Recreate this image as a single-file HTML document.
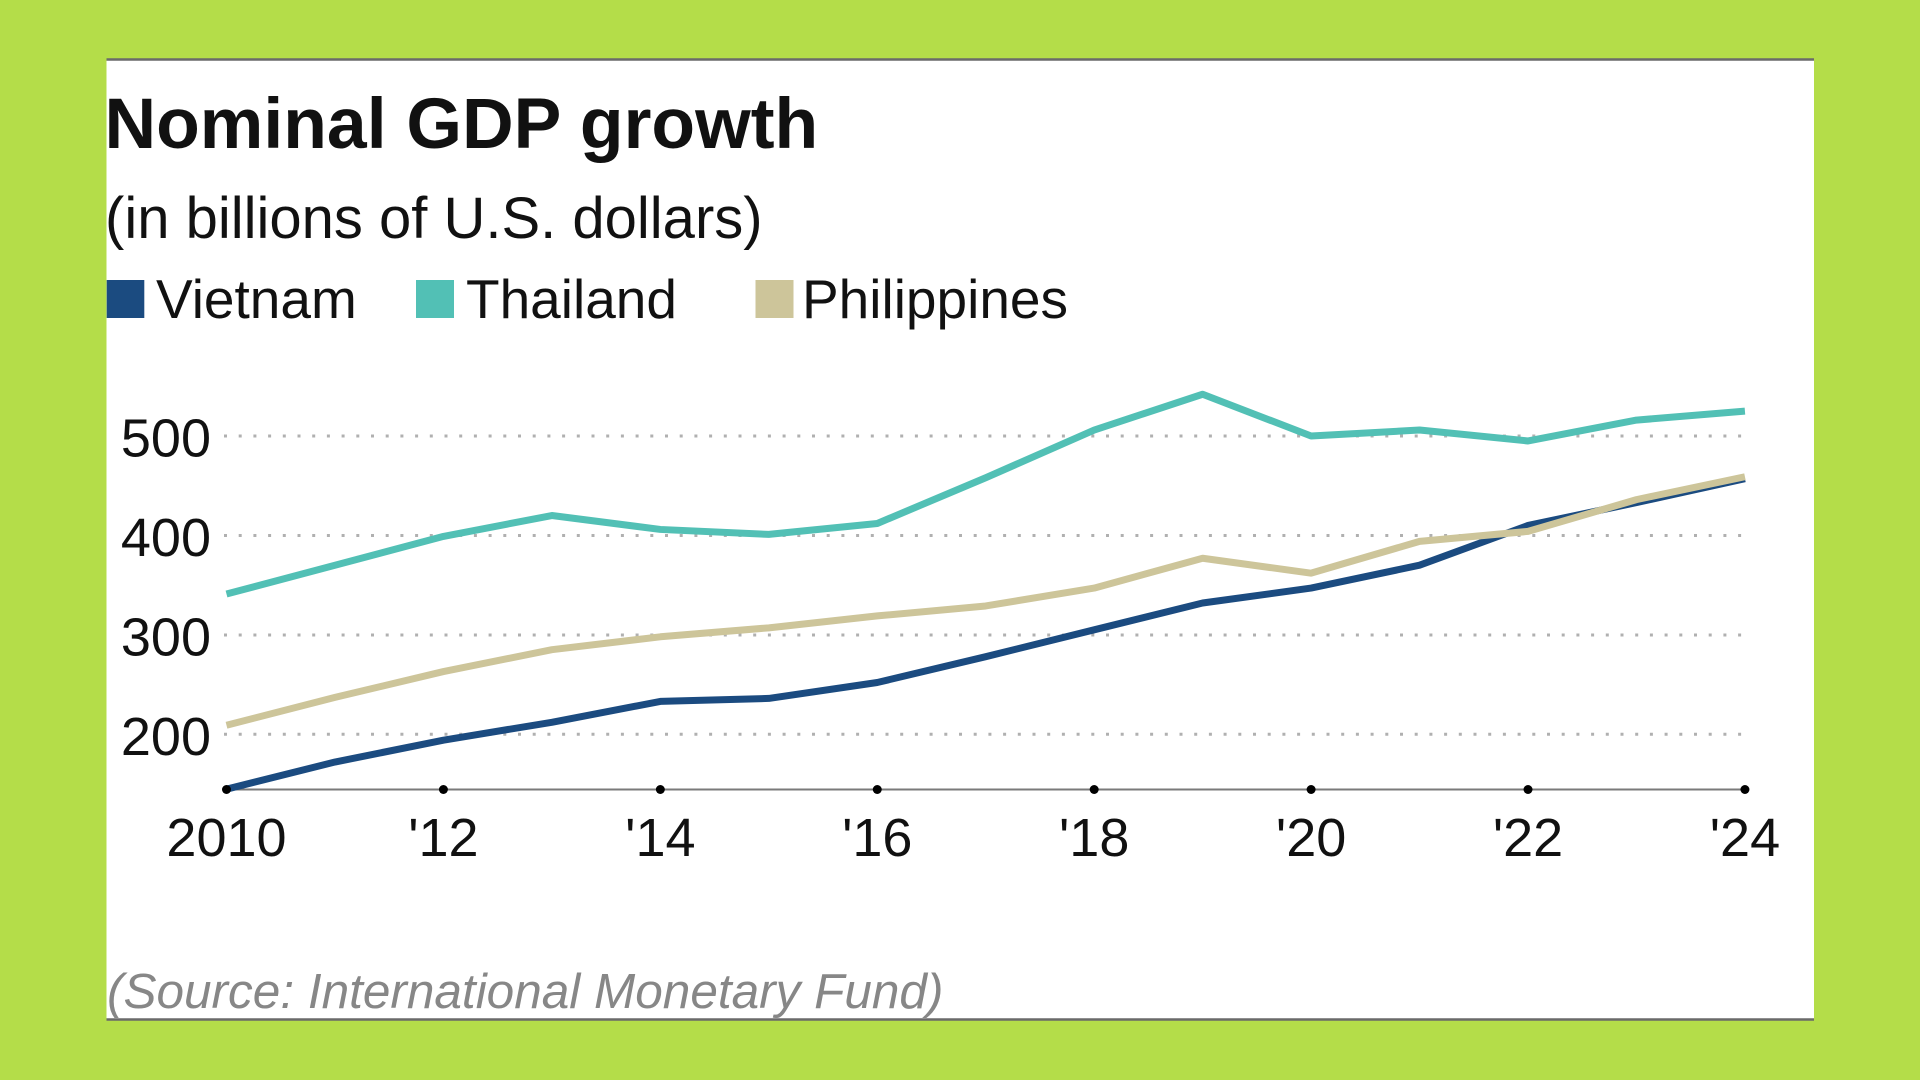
<!DOCTYPE html>
<html>
<head>
<meta charset="utf-8">
<style>
  html, body { margin: 0; padding: 0; }
  body { width: 1920px; height: 1080px; background: #b4dd49; overflow: hidden; }
  svg { display: block; }
</style>
</head>
<body>
<svg width="1920" height="1080" viewBox="0 0 1920 1080" xmlns="http://www.w3.org/2000/svg">
  <rect x="0" y="0" width="1920" height="1080" fill="#b4dd49"/>
  <!-- panel -->
  <rect x="106.5" y="59" width="1707.5" height="961" fill="#ffffff"/>
  <line x1="106.5" y1="59.5" x2="1814" y2="59.5" stroke="#6a6a6a" stroke-width="2.5"/>
  <line x1="106.5" y1="1019.5" x2="1814" y2="1019.5" stroke="#6a6a6a" stroke-width="2.5"/>

  <!-- title -->
  <text x="104.5" y="148" font-family="Liberation Sans, Arial, sans-serif" font-weight="bold" font-size="71.5" fill="#111">Nominal GDP growth</text>
  <text x="105" y="238" font-family="Liberation Sans, Arial, sans-serif" font-size="58" fill="#111">(in billions of U.S. dollars)</text>

  <!-- legend -->
  <rect x="106.7" y="280" width="37.6" height="38" fill="#1b4b80"/>
  <text x="156" y="318" font-family="Liberation Sans, Arial, sans-serif" font-size="55" fill="#111">Vietnam</text>
  <rect x="416" y="280" width="38" height="38" fill="#52c0b5"/>
  <text x="466" y="318" font-family="Liberation Sans, Arial, sans-serif" font-size="55" fill="#111">Thailand</text>
  <rect x="755.5" y="280" width="38" height="38" fill="#cdc59a"/>
  <text x="802" y="318" font-family="Liberation Sans, Arial, sans-serif" font-size="55" fill="#111">Philippines</text>

  <!-- gridlines -->
  <g stroke="#b0b0b0" stroke-width="3" stroke-dasharray="3 11.7">
    <line x1="224" y1="436" x2="1746" y2="436"/>
    <line x1="224" y1="535.5" x2="1746" y2="535.5"/>
    <line x1="224" y1="635" x2="1746" y2="635"/>
    <line x1="224" y1="734.3" x2="1746" y2="734.3"/>
  </g>

  <!-- y labels -->
  <g font-family="Liberation Sans, Arial, sans-serif" font-size="54" fill="#111" text-anchor="end">
    <text x="211" y="456.5">500</text>
    <text x="211" y="556">400</text>
    <text x="211" y="655.5">300</text>
    <text x="211" y="755">200</text>
  </g>

  <!-- x axis -->
  <line x1="226.5" y1="789.5" x2="1745" y2="789.5" stroke="#7a7a7a" stroke-width="2"/>

  <!-- series -->
  <g fill="none" stroke-width="7" stroke-linejoin="round" stroke-linecap="butt">
    <polyline stroke="#1b4b80" points="226.5,789.17 334.96,762.03 443.42,740.16 551.88,722.27 660.34,701.4 768.8,698.42 877.26,682.51 985.72,656.67 1094.18,629.83 1202.64,603 1311.1,588.08 1419.56,565.22 1528.02,525.46 1636.48,502.6 1744.94,478.74"/>
    <polyline stroke="#52c0b5" points="226.5,594.05 334.96,565.22 443.42,536.39 551.88,515.52 660.34,529.44 768.8,534.41 877.26,523.47 985.72,477.75 1094.18,430.04 1202.64,394.25 1311.1,436 1419.56,430.04 1528.02,440.97 1636.48,420.1 1744.94,411.15"/>
    <polyline stroke="#cdc59a" points="226.5,725.25 334.96,697.42 443.42,671.58 551.88,649.71 660.34,636.79 768.8,627.84 877.26,615.91 985.72,605.97 1094.18,588.08 1202.64,558.26 1311.1,573.17 1419.56,541.36 1528.02,531.42 1636.48,499.62 1744.94,476.75"/>
  </g>

  <!-- tick dots -->
  <g fill="#000">
    <circle cx="226.5" cy="789.5" r="4.5"/>
    <circle cx="443.42" cy="789.5" r="4.5"/>
    <circle cx="660.34" cy="789.5" r="4.5"/>
    <circle cx="877.26" cy="789.5" r="4.5"/>
    <circle cx="1094.18" cy="789.5" r="4.5"/>
    <circle cx="1311.1" cy="789.5" r="4.5"/>
    <circle cx="1528.02" cy="789.5" r="4.5"/>
    <circle cx="1744.94" cy="789.5" r="4.5"/>
  </g>

  <!-- x labels -->
  <g font-family="Liberation Sans, Arial, sans-serif" font-size="54" fill="#111" text-anchor="middle">
    <text x="226.5" y="856">2010</text>
    <text x="443.42" y="856">'12</text>
    <text x="660.34" y="856">'14</text>
    <text x="877.26" y="856">'16</text>
    <text x="1094.18" y="856">'18</text>
    <text x="1311.1" y="856">'20</text>
    <text x="1528.02" y="856">'22</text>
    <text x="1744.94" y="856">'24</text>
  </g>

  <!-- source -->
  <text x="107" y="1008" font-family="Liberation Sans, Arial, sans-serif" font-style="italic" font-size="49.5" fill="#878787">(Source: International Monetary Fund)</text>
</svg>
</body>
</html>
